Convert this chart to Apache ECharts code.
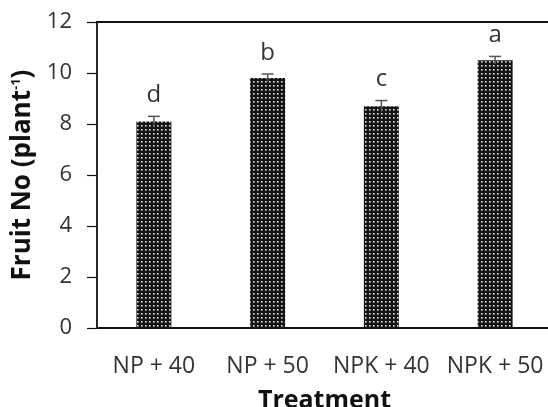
<!DOCTYPE html>
<html>
<head>
<meta charset="utf-8" />
<script src="https://cdn.jsdelivr.net/npm/echarts@6/dist/echarts.min.js"></script>
</head>
<body style="margin:0">
<div id="main" style="width:548px;height:407px;"></div>
<script>
var treatments = ['NP + 40', 'NP + 50', 'NPK + 40', 'NPK + 50'];
var fruitNo = [8.1, 9.8, 8.7, 10.5];
var errors = [0.2, 0.16, 0.22, 0.15];
var letters = ['d', 'b', 'c', 'a'];

// dotted fill like the original print
var pc = document.createElement('canvas');
pc.width = 4; pc.height = 4;
var ctx = pc.getContext('2d');
ctx.fillStyle = '#151515';
ctx.fillRect(0, 0, 4, 4);
ctx.fillStyle = '#7a7a7a';
ctx.fillRect(1, 1, 2, 2);
ctx.fillStyle = '#f0f0f0';
ctx.fillRect(1, 1, 1, 1);

var font = '"Open Sans", sans-serif';
var chart = echarts.init(document.getElementById('main'));
chart.setOption({
  animation: false,
  grid: { left: 97, top: 22, right: -4, height: 306, outerBoundsMode: 'none', containLabel: false },
  xAxis: [{
    type: 'category', data: treatments,
    axisLine: { lineStyle: { color: '#111', width: 1.8 } },
    axisTick: { alignWithLabel: true, length: 7, lineStyle: { color: '#111', width: 1.2 } },
    axisLabel: { color: '#333', fontSize: 23, fontFamily: font, margin: 27, interval: 0 },
    name: 'Treatment', nameLocation: 'middle', nameGap: 60,
    nameTextStyle: { fontSize: 25, fontWeight: 'bold', color: '#111', fontFamily: font }
  }, {
    type: 'category', data: treatments, position: 'top',
    axisLine: { onZero: false, lineStyle: { color: '#111', width: 1.8 } },
    axisTick: { show: false }, axisLabel: { show: false }
  }],
  yAxis: {
    type: 'value', min: 0, max: 12, interval: 2,
    axisLine: { show: true, lineStyle: { color: '#111', width: 1.8 } },
    axisTick: { show: true, length: 10, lineStyle: { color: '#111', width: 1.2 } },
    splitLine: { show: false },
    axisLabel: { color: '#333', fontSize: 22, fontFamily: font, margin: 25 },
    name: '{a|Fruit No (plant}{b|-1}{a|)}', nameLocation: 'middle', nameGap: 54,
    nameTextStyle: {
      rich: {
        a: { fontSize: 26, fontWeight: 'bold', color: '#111', fontFamily: font },
        b: { fontSize: 13, fontWeight: 'bold', color: '#111', fontFamily: font, verticalAlign: 'top', padding: [0, 0, 10, 0] }
      }
    }
  },
  series: [{
    type: 'bar', data: fruitNo, barWidth: 35,
    itemStyle: { color: { image: pc, repeat: 'repeat' } }
  }, {
    type: 'custom',
    data: fruitNo.map(function (v, i) { return [i, v, errors[i]]; }),
    renderItem: function (params, api) {
      var x = api.coord([api.value(0), 0])[0];
      var top = api.coord([api.value(0), api.value(1) + api.value(2)])[1];
      var bot = api.coord([api.value(0), api.value(1) - api.value(2)])[1];
      var st = { stroke: '#555', lineWidth: 1.5 };
      return {
        type: 'group',
        children: [
          { type: 'line', shape: { x1: x, y1: top, x2: x, y2: bot }, style: st },
          { type: 'line', shape: { x1: x - 6, y1: top, x2: x + 6, y2: top }, style: st },
          { type: 'text', x: x, y: top - 21, style: {
            text: letters[params.dataIndex], fill: '#333', fontSize: 24, fontFamily: font,
            align: 'center', verticalAlign: 'middle' } }
        ]
      };
    },
    z: 5
  }]
});
</script>
</body>
</html>
